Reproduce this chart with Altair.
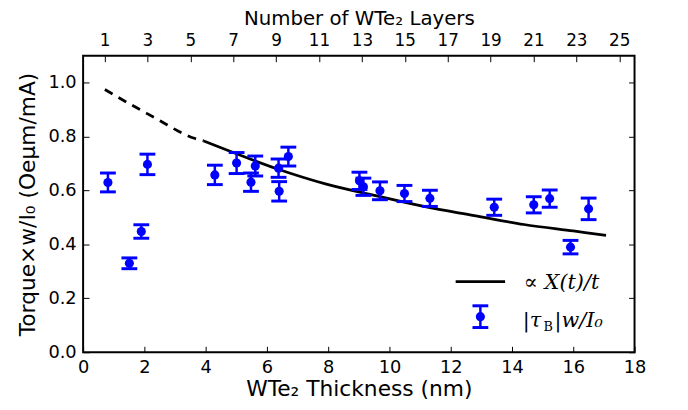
import altair as alt
import pandas as pd

# ---- data ----
thickness = [0.81, 1.51, 1.90, 2.10, 4.30, 5.01, 5.48, 5.62, 6.40, 6.38, 6.70,
             9.02, 9.15, 9.69, 10.49, 11.32, 13.42, 14.71, 15.23, 15.91, 16.50]
torque = [0.630, 0.330, 0.448, 0.697, 0.658, 0.702, 0.631, 0.691, 0.597, 0.683, 0.726,
          0.636, 0.614, 0.599, 0.589, 0.571, 0.538, 0.547, 0.570, 0.390, 0.532]
torque_err = [0.035, 0.020, 0.025, 0.038, 0.036, 0.039, 0.034, 0.037, 0.036, 0.034, 0.035,
              0.032, 0.032, 0.033, 0.030, 0.030, 0.030, 0.030, 0.032, 0.025, 0.040]

curve_dash_t = [0.71, 1.48, 2.02, 2.54, 3.08, 3.63, 3.94]
curve_dash_y = [0.975, 0.924, 0.890, 0.857, 0.822, 0.794, 0.784]
curve_solid_t = [3.94, 4.92, 6.32, 7.94, 9.55, 11.16, 12.77, 14.39, 16.00, 17.07]
curve_solid_y = [0.784, 0.740, 0.681, 0.624, 0.581, 0.540, 0.507, 0.474, 0.450, 0.434]

x_ticks = [0, 2, 4, 6, 8, 10, 12, 14, 16, 18]
y_ticks = [0.0, 0.2, 0.4, 0.6, 0.8, 1.0]
layer_numbers = [1, 3, 5, 7, 9, 11, 13, 15, 17, 19, 21, 23, 25]
layer_nm = 0.7
layer_pos = [n * layer_nm for n in layer_numbers]

pts = pd.DataFrame({"t": thickness, "y": torque, "e": torque_err})
pts["lo"] = pts["y"] - pts["e"]
pts["hi"] = pts["y"] + pts["e"]
dash_df = pd.DataFrame({"t": curve_dash_t, "y": curve_dash_y})
solid_df = pd.DataFrame({"t": curve_solid_t, "y": curve_solid_y})

W, H = 558, 300
BLUE = "#0000ff"
xs = alt.Scale(domain=[0, 18], nice=False, zero=False)
ys = alt.Scale(domain=[0, 1.1], nice=False, zero=False)


def tick_axis(orient, values, offset):
    return alt.Axis(orient=orient, values=values, labels=False, domain=False, grid=False,
                    ticks=True, tickSize=6, tickWidth=1, tickColor="black", title=None,
                    offset=offset)


solid = alt.Chart(solid_df).mark_line(color="black", strokeWidth=2.8, interpolate="monotone").encode(
    x=alt.X("t:Q", scale=xs, axis=alt.Axis(
        orient="bottom", values=x_ticks, format="d", ticks=False, domain=False, grid=False,
        labelPadding=7, labelFontSize=18, labelFlush=False, labelOverlap=False,
        title="WTe₂ Thickness (nm)", titleFontSize=22, titlePadding=2)),
    y=alt.Y("y:Q", scale=ys, axis=alt.Axis(
        orient="left", values=y_ticks, format=".1f", ticks=False, domain=False, grid=False,
        labelPadding=7, labelFontSize=18, labelFlush=False, labelOverlap=False,
        title="Torque×w/I₀  (Oeμm/mA)", titleFontSize=22, titlePadding=9)),
)

dashed = alt.Chart(dash_df).mark_line(color="black", strokeWidth=2.8, strokeDash=[9, 7],
                                      interpolate="monotone").encode(
    x=alt.X("t:Q", scale=xs, axis=alt.Axis(
        orient="top", values=layer_pos, labelExpr="round(datum.value / 0.7)", ticks=False,
        domain=False, grid=False, labelPadding=6, labelFontSize=17, labelFlush=False,
        labelOverlap=False, title="Number of WTe₂ Layers", titleFontSize=20, titlePadding=4)),
    y=alt.Y("y:Q", scale=ys, axis=tick_axis("right", y_ticks, -W)),
)

bars = alt.Chart(pts).mark_rule(color=BLUE, strokeWidth=2.5).encode(
    x=alt.X("t:Q", scale=xs, axis=tick_axis("top", x_ticks, -H)),
    y=alt.Y("lo:Q", scale=ys, axis=tick_axis("left", y_ticks, -W)),
    y2="hi:Q",
)

cap_lo = alt.Chart(pts).mark_tick(color=BLUE, orient="horizontal", size=16, thickness=3, opacity=1).encode(
    x=alt.X("t:Q", scale=xs, axis=tick_axis("bottom", layer_pos, -H)),
    y=alt.Y("lo:Q", scale=ys, axis=None),
)
cap_hi = alt.Chart(pts).mark_tick(color=BLUE, orient="horizontal", size=16, thickness=3, opacity=1).encode(
    x=alt.X("t:Q", scale=xs, axis=None),
    y=alt.Y("hi:Q", scale=ys, axis=None),
)
dots = alt.Chart(pts).mark_circle(color=BLUE, size=85, opacity=1).encode(
    x=alt.X("t:Q", scale=xs, axis=None),
    y=alt.Y("y:Q", scale=ys, axis=None),
)

# ---- legend (drawn in pixel space) ----
one = alt.Data(values=[{"k": 0}])
leg_line = alt.Chart(one).mark_rule(color="black", strokeWidth=2.8).encode(
    x=alt.value(377), x2=alt.value(427), y=alt.value(228.5))
leg_bar = alt.Chart(one).mark_rule(color=BLUE, strokeWidth=2.5).encode(
    x=alt.value(402), y=alt.value(253), y2=alt.value(275))
leg_cap1 = alt.Chart(one).mark_rule(color=BLUE, strokeWidth=3).encode(
    x=alt.value(394), x2=alt.value(410), y=alt.value(253))
leg_cap2 = alt.Chart(one).mark_rule(color=BLUE, strokeWidth=3).encode(
    x=alt.value(394), x2=alt.value(410), y=alt.value(275))
leg_dot = alt.Chart(one).mark_circle(color=BLUE, size=85, opacity=1).encode(
    x=alt.value(402), y=alt.value(264))

serif = "DejaVu Serif"
leg_t0 = alt.Chart(one).mark_text(align="left", baseline="middle", font=serif, fontSize=21,
                                  color="black").encode(
    x=alt.value(446), y=alt.value(230), text=alt.value("∝"))
leg_t1 = alt.Chart(one).mark_text(align="left", baseline="middle", font=serif, fontSize=21,
                                  fontStyle="italic", color="black").encode(
    x=alt.value(467), y=alt.value(230), text=alt.value("X(t)/t"))
leg_t2a = alt.Chart(one).mark_text(align="left", baseline="middle", font=serif, fontSize=21,
                                   fontStyle="italic", color="black").encode(
    x=alt.value(445), y=alt.value(268), text=alt.value("|τ"))
leg_t2b = alt.Chart(one).mark_text(align="left", baseline="middle", font=serif, fontSize=13,
                                   color="black").encode(
    x=alt.value(466), y=alt.value(274), text=alt.value("B"))
leg_t2c = alt.Chart(one).mark_text(align="left", baseline="middle", font=serif, fontSize=21,
                                   fontStyle="italic", color="black").encode(
    x=alt.value(477), y=alt.value(268), text=alt.value("|w/I₀"))

chart = alt.layer(
    solid, dashed, bars, cap_lo, cap_hi, dots,
    leg_line, leg_bar, leg_cap1, leg_cap2, leg_dot, leg_t0, leg_t1, leg_t2a, leg_t2b, leg_t2c,
).resolve_axis(x="independent", y="independent").properties(
    width=W, height=H,
    autosize=alt.AutoSizeParams(type="none"),
    padding={"left": 76, "top": 46, "right": 46, "bottom": 48},
).configure_view(stroke="black", strokeWidth=2).configure_axis(
    labelFont="DejaVu Sans", titleFont="DejaVu Sans", labelColor="black", titleColor="black",
    titleFontWeight="normal",
)

chart.save("out.html", embed_options={"renderer": "svg", "actions": False})
